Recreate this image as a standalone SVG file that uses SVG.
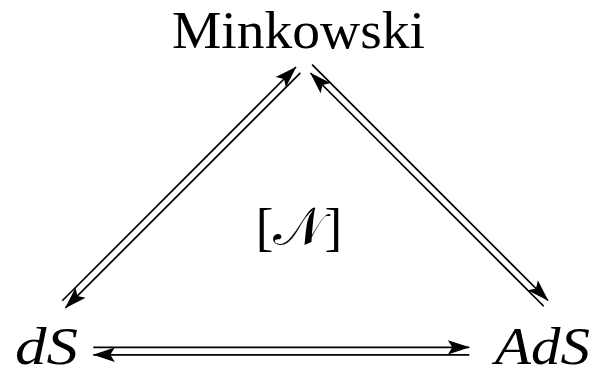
<svg xmlns="http://www.w3.org/2000/svg" width="597" height="377" viewBox="0 0 597 377">
<style>
.lbl{font-family:"Liberation Serif","DejaVu Serif",serif;font-size:53px;fill:#000}
.it{font-style:italic}
.ar{stroke:#000;stroke-width:1.7;fill:none;marker-end:url(#ah)}
</style>
<defs>
<marker id="ah" viewBox="0 0 22 16" markerUnits="userSpaceOnUse" markerWidth="22" markerHeight="16" refX="21.5" refY="8" orient="auto">
<path d="M22,8 L0,0.8 L4.5,8 L0,15.2 Z" fill="#000"/>
</marker>
</defs>
<rect width="597" height="377" fill="#fff"/>
<g id="node-minkowski"><text class="lbl" x="298.5" y="48" text-anchor="middle" textLength="253" lengthAdjust="spacingAndGlyphs">Minkowski</text></g>
<g id="node-ds"><text class="lbl it" x="15" y="363.5" textLength="63" lengthAdjust="spacingAndGlyphs">dS</text></g>
<g id="node-ads"><text class="lbl it" x="495" y="364" textLength="95" lengthAdjust="spacingAndGlyphs">AdS</text></g>
<g id="node-n"><text class="lbl" x="299" y="245" text-anchor="middle">[𝒩]</text></g>
<g id="connectors">
<line class="ar" x1="62.25" y1="300.75" x2="296" y2="67"/>
<line class="ar" x1="300.4" y1="72.9" x2="65.4" y2="307.9"/>
<line class="ar" x1="312.1" y1="64.6" x2="548" y2="300.5"/>
<line class="ar" x1="543.75" y1="306.25" x2="310.5" y2="73"/>
<line class="ar" x1="93.3" y1="347.3" x2="469.3" y2="347.3"/>
<line class="ar" x1="469.3" y1="354.8" x2="93.3" y2="354.8"/>
</g>
</svg>
